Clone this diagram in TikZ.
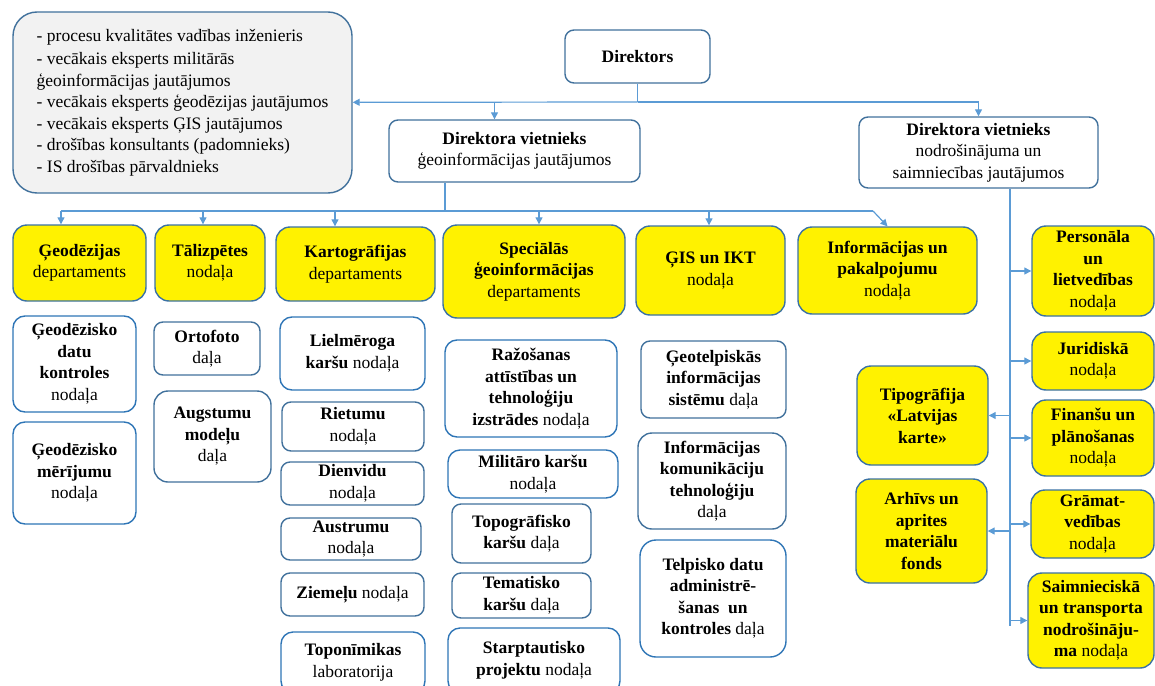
\documentclass[tikz,border=0pt]{standalone}
\usepackage{fontspec}
\setmainfont{Liberation Serif}
\usetikzlibrary{arrows.meta,positioning,calc}

\definecolor{linkblue}{HTML}{5B9BD5}
\definecolor{edgeblue}{HTML}{2E75B6}
\definecolor{slate}{HTML}{41719C}
\definecolor{staffgray}{HTML}{F2F2F2}

\begin{document}
\begin{tikzpicture}[x=1pt, y=-1pt,
  >={Triangle[length=7pt,width=7pt]},
  every node/.style={font=\fontsize{17.5}{21.5}\selectfont},
  sz/.style 2 args={minimum width=#1pt, minimum height=#2pt},
  box/.style={draw, line width=1.4pt, rounded corners=9pt, align=center, inner sep=1pt},
  head/.style={box, draw=slate, fill=white},
  dept/.style={box, draw=slate!70!edgeblue, fill=yellow, rounded corners=14pt},
  unit/.style={box, draw=edgeblue, fill=white, rounded corners=12pt},
  unitg/.style={box, draw=slate, fill=white},
  link/.style={draw=linkblue, line width=1.2pt},
  linkto/.style={link, ->},
]
\useasboundingbox (0,0) rectangle (1155,685);

% top level
\node[head, sz={339}{181}, fill=staffgray, rounded corners=24pt, align=left] (staff) at (182.5,102.5)
  {- procesu kvalitātes vadības inženieris\\[2pt]
   - vecākais eksperts militārās\\
   ģeoinformācijas jautājumos\\
   - vecākais eksperts ģeodēzijas jautājumos\\
   - vecākais eksperts ĢIS jautājumos\\
   - drošības konsultants (padomnieks)\\
   - IS drošības pārvaldnieks};
\node[head, sz={145}{53}] (dir) at (637.5,56.5) {\textbf{Direktors}};
\node[head, sz={251}{62}] (dv1) at (514.5,151)
  {\textbf{Direktora vietnieks}\\ ģeoinformācijas jautājumos};
\node[head, sz={239}{71}] (dv2) at (978.5,152.5)
  {\textbf{Direktora vietnieks}\\ nodrošinājuma un\\ saimniecības jautājumos};

% departments
\node[dept, sz={133}{76}] (geod) at (79.5,263) {\textbf{Ģeodēzijas}\\ departaments};
\node[dept, sz={110}{76}] (tal) at (210,263) {\textbf{Tālizpētes}\\ nodaļa};
\node[dept, sz={159}{74}] (kart) at (355.5,264) {\textbf{Kartogrāfijas}\\ departaments};
\node[dept, sz={182}{93}] (spec) at (534,271.5)
  {\textbf{Speciālās}\\ \textbf{ģeoinformācijas}\\ departaments};
\node[dept, sz={149}{89}] (gis) at (710.5,270.5) {\textbf{ĢIS un IKT}\\ nodaļa};
\node[dept, sz={179}{87}] (info) at (887.5,270.5)
  {\textbf{Informācijas un}\\ \textbf{pakalpojumu}\\ nodaļa};
\node[dept, sz={122}{90}] (pers) at (1093,271)
  {\textbf{Personāla}\\ \textbf{un}\\ \textbf{lietvedības}\\ nodaļa};
\node[dept, sz={122}{58}] (jur) at (1093,361) {\textbf{Juridiskā}\\ nodaļa};
\node[dept, sz={131}{99}, font=\fontsize{17.5}{21.5}\selectfont\bfseries] (tipo) at (922.5,415.5)
  {Tipogrāfija\\ «Latvijas\\ karte»};
\node[dept, sz={122}{76}] (fin) at (1093,438)
  {\textbf{Finanšu un}\\ \textbf{plānošanas}\\ nodaļa};
\node[dept, sz={131}{104}, font=\fontsize{17.5}{21.5}\selectfont\bfseries] (arh) at (921.5,531)
  {Arhīvs un\\ aprites\\ materiālu\\ fonds};
\node[dept, sz={123}{68}] (gram) at (1092.5,524)
  {\textbf{Grāmat-}\\ \textbf{vedības}\\ nodaļa};
\node[dept, sz={126}{95}] (saim) at (1091,620.5)
  {\textbf{Saimnieciskā}\\ \textbf{un transporta}\\ \textbf{nodrošināju-}\\ \textbf{ma} nodaļa};

% units
\node[unit, sz={123}{96}] (gdk) at (74.5,364)
  {\textbf{Ģeodēzisko}\\ \textbf{datu}\\ \textbf{kontroles}\\ nodaļa};
\node[unit, sz={123}{102}] (gmer) at (74.5,473)
  {\textbf{Ģeodēzisko}\\ \textbf{mērījumu}\\ nodaļa};
\node[unitg, sz={106}{53}] (orto) at (207,348.5) {\textbf{Ortofoto}\\ daļa};
\node[unitg, sz={117}{91}, rounded corners=14pt] (augst) at (212.5,436.5)
  {\textbf{Augstumu}\\ \textbf{modeļu}\\ daļa};
\node[unit, sz={145}{73}] (liel) at (352.5,353.5) {\textbf{Lielmēroga}\\ \textbf{karšu} nodaļa};
\node[unitg, sz={142}{49}] (riet) at (353,426.5) {\textbf{Rietumu}\\ nodaļa};
\node[unitg, sz={143}{43}] (dienv) at (352.5,483.5) {\textbf{Dienvidu}\\ nodaļa};
\node[unitg, sz={140}{42}] (austr) at (351,539) {\textbf{Austrumu}\\ nodaļa};
\node[unitg, sz={143}{43}] (ziem) at (352.5,594.5) {\textbf{Ziemeļu} nodaļa};
\node[unit, sz={144}{61}] (topon) at (353,662.5) {\textbf{Toponīmikas}\\ laboratorija};
\node[unit, sz={172}{97}] (raz) at (531,388.5)
  {\textbf{Ražošanas}\\ \textbf{attīstības un}\\ \textbf{tehnoloģiju}\\ \textbf{izstrādes} nodaļa};
\node[unit, sz={170}{48}] (mil) at (533,474) {\textbf{Militāro karšu}\\ nodaļa};
\node[unitg, sz={139}{59}] (topo) at (521.5,533.5) {\textbf{Topogrāfisko}\\ \textbf{karšu} daļa};
\node[unitg, sz={139}{45}] (temat) at (521.5,595.5) {\textbf{Tematisko}\\ \textbf{karšu} daļa};
\node[unit, sz={172}{65}] (starpt) at (534,660.5) {\textbf{Starptautisko}\\ \textbf{projektu} nodaļa};
\node[unitg, sz={145}{77}] (geot) at (713.5,379.5)
  {\textbf{Ģeotelpiskās}\\ \textbf{informācijas}\\ \textbf{sistēmu} daļa};
\node[unitg, sz={148}{96}, rounded corners=14pt] (ikt) at (712,481)
  {\textbf{Informācijas}\\ \textbf{komunikāciju}\\ \textbf{tehnoloģiju}\\ daļa};
\node[unit, sz={146}{117}, rounded corners=16pt] (telp) at (713,598.5)
  {\textbf{Telpisko datu}\\ \textbf{administrē-}\\ \textbf{šanas\ \ un}\\ \textbf{kontroles} daļa};

% director level links
\coordinate (top) at (637.5,102);
\draw[link] (dir) -- (top);
\draw[linkto] (top) -- (staff);
\draw[linkto] (top) -| (dv2);
\draw[linkto] ([xshift=-20pt]dv1.north |- top) -- ([xshift=-20pt]dv1.north);

% department bus
\coordinate (bus) at (445,211);
\coordinate (busend) at (873,211);
\draw[link] ([xshift=-69.5pt]dv1.south) -- (bus);
\draw[link] ([xshift=-18.5pt]geod.north |- bus) -- (busend);
\draw[linkto] (busend) -- (info.north);
\foreach \n/\dx in {geod/-18.5, tal/-7, kart/-20.5, spec/5, gis/-1.5}
  \draw[linkto] ([xshift=\dx pt]\n.north |- bus) -- ([xshift=\dx pt]\n.north);

% support spine
\coordinate (spine) at (1010,626);
\draw[link] ([xshift=31.5pt]dv2.south) -- (spine);
\foreach \n in {pers, jur, fin, gram, saim, tipo, arh}
  \draw[linkto] (spine |- \n) -- (\n);
\end{tikzpicture}
\end{document}
